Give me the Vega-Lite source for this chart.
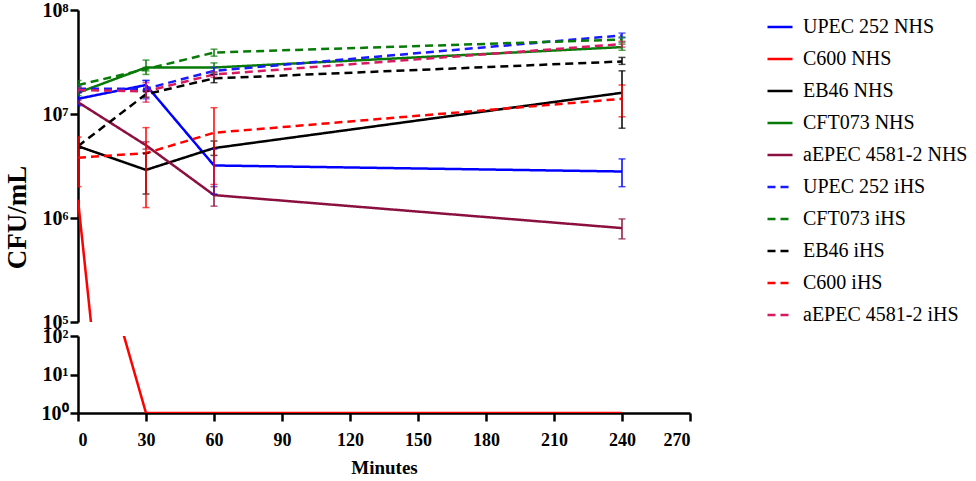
{
  "$schema": "https://vega.github.io/schema/vega-lite/v6.json",
  "background": "white",
  "padding": {"left": 3, "top": 0, "right": 0, "bottom": 0},
  "datasets": {
    "cfu": [
      {"series": "UPEC 252 NHS", "t": 0, "v": 14000000, "lo": 12000000, "hi": 16000000},
      {"series": "UPEC 252 NHS", "t": 30, "v": 19000000, "lo": 17000000, "hi": 21000000},
      {"series": "UPEC 252 NHS", "t": 60, "v": 3200000, "lo": 1700000, "hi": 4600000},
      {"series": "UPEC 252 NHS", "t": 240, "v": 2800000, "lo": 2000000, "hi": 3700000},
      {"series": "C600 NHS", "t": 0, "v": 1500000, "lo": 1400000, "hi": 1600000},
      {"series": "C600 NHS", "t": 30, "v": 1, "lo": 1, "hi": 1},
      {"series": "C600 NHS", "t": 60, "v": 1, "lo": 1, "hi": 1},
      {"series": "C600 NHS", "t": 240, "v": 1, "lo": 1, "hi": 1},
      {"series": "EB46 NHS", "t": 0, "v": 4900000, "lo": 4700000, "hi": 5100000},
      {"series": "EB46 NHS", "t": 30, "v": 2900000, "lo": 1700000, "hi": 4200000},
      {"series": "EB46 NHS", "t": 60, "v": 4700000, "lo": 4000000, "hi": 5500000},
      {"series": "EB46 NHS", "t": 240, "v": 16000000, "lo": 7300000, "hi": 26000000},
      {"series": "CFT073 NHS", "t": 0, "v": 16000000, "lo": 15000000, "hi": 18000000},
      {"series": "CFT073 NHS", "t": 30, "v": 28000000, "lo": 24000000, "hi": 33000000},
      {"series": "CFT073 NHS", "t": 60, "v": 28000000, "lo": 25000000, "hi": 31000000},
      {"series": "CFT073 NHS", "t": 240, "v": 44000000, "lo": 41000000, "hi": 47000000},
      {"series": "aEPEC 4581-2 NHS", "t": 0, "v": 13000000, "lo": 12500000, "hi": 13500000},
      {"series": "aEPEC 4581-2 NHS", "t": 30, "v": 5000000, "lo": 4600000, "hi": 5400000},
      {"series": "aEPEC 4581-2 NHS", "t": 60, "v": 1660000, "lo": 1300000, "hi": 2000000},
      {"series": "aEPEC 4581-2 NHS", "t": 240, "v": 800000, "lo": 630000, "hi": 980000},
      {"series": "UPEC 252 iHS", "t": 0, "v": 17500000, "lo": 16500000, "hi": 18500000},
      {"series": "UPEC 252 iHS", "t": 30, "v": 17500000, "lo": 14000000, "hi": 21000000},
      {"series": "UPEC 252 iHS", "t": 60, "v": 26000000, "lo": 24000000, "hi": 28000000},
      {"series": "UPEC 252 iHS", "t": 240, "v": 57000000, "lo": 54000000, "hi": 60000000},
      {"series": "CFT073 iHS", "t": 0, "v": 19000000, "lo": 18000000, "hi": 21000000},
      {"series": "CFT073 iHS", "t": 30, "v": 27000000, "lo": 26000000, "hi": 28000000},
      {"series": "CFT073 iHS", "t": 60, "v": 39000000, "lo": 36000000, "hi": 42000000},
      {"series": "CFT073 iHS", "t": 240, "v": 52000000, "lo": 49000000, "hi": 55000000},
      {"series": "EB46 iHS", "t": 0, "v": 4900000, "lo": 4700000, "hi": 5100000},
      {"series": "EB46 iHS", "t": 30, "v": 15500000, "lo": 14500000, "hi": 16500000},
      {"series": "EB46 iHS", "t": 60, "v": 22000000, "lo": 20000000, "hi": 24000000},
      {"series": "EB46 iHS", "t": 240, "v": 32000000, "lo": 30000000, "hi": 35000000},
      {"series": "C600 iHS", "t": 0, "v": 3800000, "lo": 2000000, "hi": 6000000},
      {"series": "C600 iHS", "t": 30, "v": 4200000, "lo": 1260000, "hi": 7400000},
      {"series": "C600 iHS", "t": 60, "v": 6600000, "lo": 2100000, "hi": 11500000},
      {"series": "C600 iHS", "t": 240, "v": 14000000, "lo": 9400000, "hi": 19000000},
      {"series": "aEPEC 4581-2 iHS", "t": 0, "v": 17000000, "lo": 16000000, "hi": 18000000},
      {"series": "aEPEC 4581-2 iHS", "t": 30, "v": 16500000, "lo": 13000000, "hi": 20000000},
      {"series": "aEPEC 4581-2 iHS", "t": 60, "v": 24000000, "lo": 22500000, "hi": 25500000},
      {"series": "aEPEC 4581-2 iHS", "t": 240, "v": 47000000, "lo": 44000000, "hi": 50000000}
    ]
  },
  "bounds": "flush",
  "spacing": 14,
  "vconcat": [
    {
      "width": 612,
      "height": 312,
      "data": {"name": "cfu"},
      "layer": [
        {
          "mark": {"type": "line", "strokeWidth": 2.5, "clip": true},
          "encoding": {
            "x": {"field": "t", "type": "quantitative", "scale": {"domain": [0, 270], "nice": false}, "axis": null},
            "y": {
              "field": "v", "type": "quantitative",
              "scale": {"type": "log", "domain": [100000, 100000000], "nice": false},
              "axis": {
                "values": [100000, 1000000, 10000000, 100000000],
                "labelExpr": "'10' + ['⁰','¹','²','³','⁴','⁵','⁶','⁷','⁸'][round(log(datum.value)/LN10)]",
                "title": "CFU/mL",
                "titleX": -47,
                "titleY": 207,
                "titleFontSize": 27,
                "titleFont": "Liberation Serif",
                "titleFontWeight": "bold"
              }
            },
            "color": {
              "field": "series", "type": "nominal",
              "scale": {
                "domain": ["UPEC 252 NHS", "C600 NHS", "EB46 NHS", "CFT073 NHS", "aEPEC 4581-2 NHS", "UPEC 252 iHS", "CFT073 iHS", "EB46 iHS", "C600 iHS", "aEPEC 4581-2 iHS"],
                "range": ["#0000ff", "#ff0000", "#000000", "#087a08", "#8b1040", "#1a1aff", "#087a08", "#000000", "#ff0000", "#d81b60"]
              },
              "legend": {"orient": "none", "legendX": 688, "legendY": 3, "title": null}
            },
            "strokeDash": {
              "field": "series", "type": "nominal",
              "scale": {
                "domain": ["UPEC 252 NHS", "C600 NHS", "EB46 NHS", "CFT073 NHS", "aEPEC 4581-2 NHS", "UPEC 252 iHS", "CFT073 iHS", "EB46 iHS", "C600 iHS", "aEPEC 4581-2 iHS"],
                "range": [[1, 0], [1, 0], [1, 0], [1, 0], [1, 0], [8, 5], [8, 5], [8, 5], [8, 5], [8, 5]]
              },
              "legend": {"orient": "none", "legendX": 688, "legendY": 3, "title": null}
            }
          }
        },
        {
          "transform": [{"filter": "datum.series != 'C600 NHS'"}],
          "mark": {"type": "errorbar", "ticks": {"size": 7}, "thickness": 1.5, "clip": true},
          "encoding": {
            "x": {"field": "t", "type": "quantitative", "scale": {"domain": [0, 270], "nice": false}},
            "y": {"field": "lo", "type": "quantitative", "title": "CFU/mL"},
            "y2": {"field": "hi"},
            "color": {"field": "series", "type": "nominal", "legend": null}
          }
        }
      ]
    },
    {
      "width": 612,
      "height": 77,
      "data": {"name": "cfu"},
      "transform": [{"filter": "datum.series == 'C600 NHS'"}],
      "mark": {"type": "line", "strokeWidth": 2.5, "clip": true, "color": "#ff0000"},
      "encoding": {
        "x": {
          "field": "t", "type": "quantitative",
          "scale": {"domain": [0, 270], "nice": false},
          "axis": {"values": [0, 30, 60, 90, 120, 150, 180, 210, 240, 270], "title": "Minutes", "titleFont": "Liberation Serif", "titleFontWeight": "bold", "titleFontSize": 19, "titlePadding": 9, "labelFontSize": 18, "labelPadding": 10}
        },
        "y": {
          "field": "v", "type": "quantitative",
          "scale": {"type": "log", "domain": [1, 100], "nice": false},
          "axis": {
            "values": [1, 10, 100],
            "labelExpr": "'10' + ['⁰','¹','²','³','⁴','⁵','⁶','⁷','⁸'][round(log(datum.value)/LN10)]",
            "title": null
          }
        }
      }
    }
  ],
  "config": {
    "view": {"stroke": null},
    "axis": {
      "grid": false,
      "domainColor": "#000000",
      "domainWidth": 2.5,
      "tickColor": "#000000",
      "tickWidth": 2.5,
      "tickSize": 8,
      "labelFont": "Liberation Serif",
      "labelFontWeight": "bold",
      "labelFontSize": 20,
      "labelColor": "#000000",
      "titleColor": "#000000"
    },
    "legend": {
      "labelFont": "Liberation Serif",
      "labelFontSize": 20,
      "labelColor": "#000000",
      "labelOffset": 9,
      "labelLimit": 300,
      "symbolType": "stroke",
      "symbolStrokeWidth": 2.5,
      "symbolSize": 625,
      "rowPadding": 8
    }
  }
}
